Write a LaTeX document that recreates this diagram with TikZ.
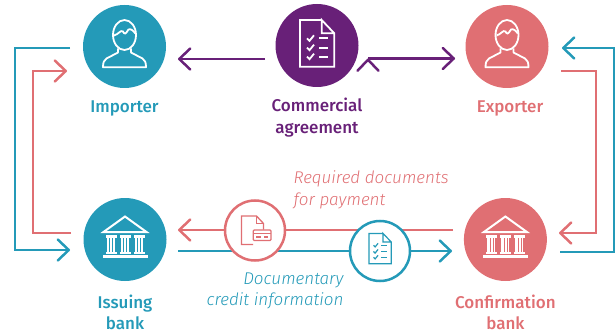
\documentclass[tikz,border=0pt]{standalone}
\usepackage{fontspec}
\setmainfont[BoldFont={Fira Sans Medium},ItalicFont={Fira Sans Light Italic}]{Fira Sans}
\usetikzlibrary{arrows.meta}

\definecolor{tealblue}{RGB}{36,154,184}
\definecolor{salmon}{RGB}{224,111,115}
\definecolor{plum}{RGB}{104,32,120}

\tikzset{
  person/.pic={
    \draw (0,-11.5) ellipse (11.5pt and 15pt);
    \draw (-10.5,-11) .. controls (-6,-12) and (-4,-17) .. (-1.5,-15)
          .. controls (0,-12) and (1,-12) .. (4,-17)
          .. controls (6,-18) and (9,-16) .. (10.8,-13);
    \draw[line join=round] (-6.5,2) -- (-6.5,6) -- (-18,12)
          .. controls (-20.5,13.5) and (-21.5,16) .. (-21.5,20.8) -- (21.5,20.8)
          .. controls (21.5,16) and (20.5,13.5) .. (18,12) -- (6.5,6) -- (6.5,2);
  },
  checklist/.pic={
    \draw[line join=miter] (4.7,-25.5) -- (-17,-25.5) -- (-17,21.2) -- (17.3,21.2) -- (17.3,-12.2) -- (4.7,-25.5) -- (4.7,-12.2) -- (17.3,-12.2);
    \foreach \rowy in {-7.2,2.2,11.2} {
      \draw (-10,\rowy) -- (-7.5,\rowy+2.5) -- (-3,\rowy-3);
      \draw (2,\rowy) -- (10.7,\rowy);
    }
  },
  pics/bank/.style={code={
    \draw[line width=2pt,line join=miter] (-21.5,-7.5) -- (0,-23) -- (21.5,-7.5) -- cycle;
    \foreach \colx in {-14,0,14} {
      \fill (\colx-5.5,-4.5) rectangle (\colx+5.5,-2);
      \fill (\colx-4,-2) rectangle (\colx+4,12);
      \fill (\colx-5.5,12) rectangle (\colx+5.5,14);
      \draw[#1,line width=.5pt] (\colx-1.4,-1.5) -- (\colx-1.4,12);
      \draw[#1,line width=.5pt] (\colx+1.4,-1.5) -- (\colx+1.4,12);
    }
    \fill (-22.5,15.5) rectangle (22.5,18.5);
  }},
  paycard/.pic={
    \draw[line join=miter] (-2,14) -- (-13.5,14) -- (-13.5,-14.5) -- (1.5,-14.5) -- (8.5,-7) -- (8.5,-1);
    \draw (1.5,-14.5) -- (1.5,-7) -- (8.5,-7);
    \draw[rounded corners=1pt] (-1.7,-.5) rectangle (16,10);
    \draw (-1.7,3) -- (16,3);
    \draw (1,6.5) -- (6,6.5);
    \draw (9,6.5) -- (13,6.5);
  }
}

\begin{document}
\begin{tikzpicture}[x=1pt,y=-1pt,>={Straight Barb[length=11pt,width=21pt,round]},
                    line width=2.5pt,node distance=62pt]
  \tikzstyle{actor}=[circle,minimum size=83pt,inner sep=0pt]
  \tikzstyle{waypoint}=[circle,draw,fill=white,minimum size=60pt,inner sep=0pt]
  \tikzstyle{caption}=[align=center,font=\fontsize{17}{21.5}\selectfont\bfseries]
  \tikzstyle{remark}=[font=\fontsize{17}{21.5}\selectfont\itshape]

  \useasboundingbox (0,0) rectangle (616,334);

  \node[actor,fill=tealblue] (importer)     at (124.5,46.5) {};
  \node[actor,fill=plum]     (agreement)    at (317,45.5)   {};
  \node[actor,fill=salmon]   (exporter)     at (507,46.5)   {};
  \node[actor,fill=tealblue] (issuing)      at (125,239.5)  {};
  \node[actor,fill=salmon]   (confirmation) at (505.4,239.5) {};

  \node[caption,text=tealblue] [below of=importer] {Importer};
  \node[caption,text=plum]     [below of=agreement,node distance=72pt] {Commercial\\agreement};
  \node[caption,text=salmon]   [below of=exporter,xshift=3pt] {Exporter};
  \node[caption,text=tealblue] [below of=issuing,node distance=73pt] {Issuing\\bank};
  \node[caption,text=salmon]   [below of=confirmation,node distance=73pt] {Confirmation\\bank};

  \node[remark,text=salmon,align=left,anchor=west]    (required) at (289,190) {Required documents\\for payment};
  \node[remark,text=tealblue,align=right,anchor=east] (credit)   at (348,291) {Documentary\\credit information};

  \coordinate (imp in)   at (178,59);
  \coordinate (exp in)   at (455,58.5);
  \coordinate (agr west) at (265,59);
  \coordinate (agr east) at (368,58.5);
  \coordinate (imp out)  at (70,48);
  \coordinate (iss in)   at (70,250);
  \coordinate (iss out)  at (71,233);
  \coordinate (imp ret)  at (67,71);
  \coordinate (con out)  at (560,252);
  \coordinate (exp ret)  at (562,48);
  \coordinate (exp out)  at (561,71);
  \coordinate (con in)   at (559,233);
  \coordinate (con west) at (453,230);
  \coordinate (iss east) at (178,230);
  \coordinate (iss info) at (178,251);
  \coordinate (con info) at (452,251);

  \path[->,draw=plum] (agr west) edge (imp in)
                      (agr east) edge (exp in);

  \draw[->,tealblue,line join=miter] (imp out) -- (15,48) -- (15,250) -- (iss in);
  \draw[->,salmon,line join=miter]   (iss out) -- (33,233) -- (33,71) -- (imp ret);
  \draw[->,tealblue,line join=miter] (con out) -- (614,252) -- (614,48) -- (exp ret);
  \draw[->,salmon,line join=miter]   (exp out) -- (596,71) -- (596,233) -- (con in);

  \draw[->,tealblue] (iss info) -- (con info);
  \draw[->,salmon]   (con west) -- (iss east);

  \node[waypoint,draw=salmon]   (documents) at (255,230.5) {};
  \node[waypoint,draw=tealblue] (information) at (380,251) {};

  \pic[white,line width=1.8pt] at (importer) {person};
  \pic[white,line width=1.8pt] at (exporter) {person};
  \pic[white,line width=1.8pt] at (agreement) {checklist};
  \pic[white] at (issuing) {bank=tealblue};
  \pic[white] at (confirmation) {bank=salmon};
  \pic[salmon,line width=1.3pt] at (documents) {paycard};
  \pic[tealblue,line width=1.2pt,scale=.65] at ([yshift=1pt]information) {checklist};
\end{tikzpicture}
\end{document}
